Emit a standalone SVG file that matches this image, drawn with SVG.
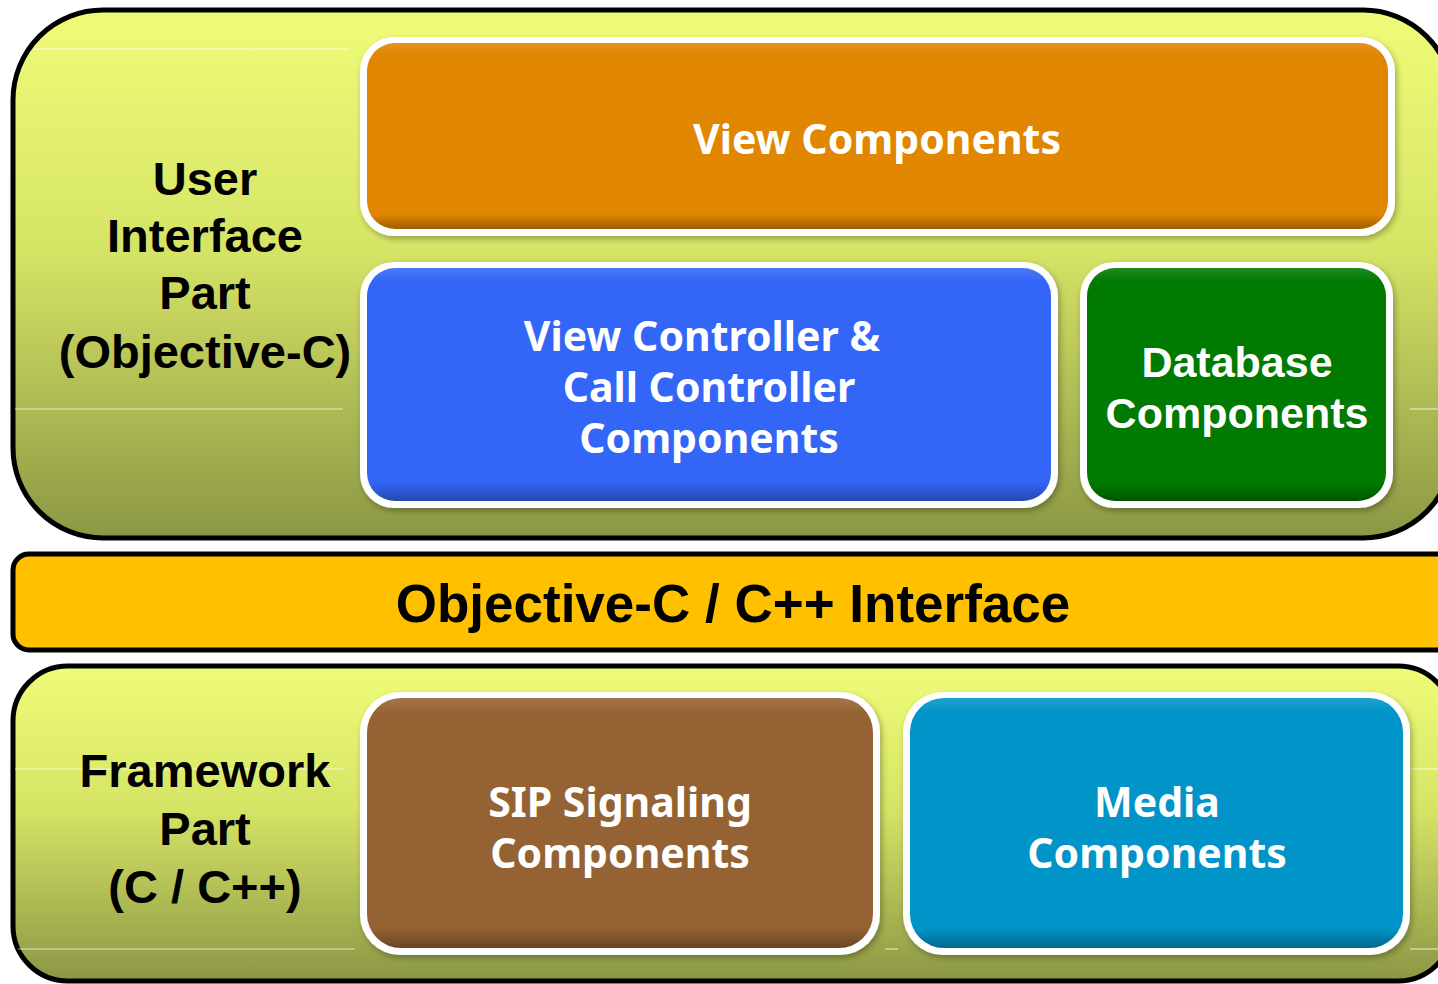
<svg xmlns="http://www.w3.org/2000/svg" width="1438" height="984" viewBox="0 0 1438 984">
<defs>
<linearGradient id="olive" x1="0" y1="0" x2="0" y2="1">
<stop offset="0" stop-color="#F0FC78"/>
<stop offset="0.45" stop-color="#D6E466"/>
<stop offset="1" stop-color="#8C9744"/>
</linearGradient>
<linearGradient id="bevel" x1="0" y1="0" x2="0" y2="1">
<stop offset="0" stop-color="#fff" stop-opacity="0.12"/>
<stop offset="0.06" stop-color="#fff" stop-opacity="0"/>
<stop offset="0.92" stop-color="#000" stop-opacity="0"/>
<stop offset="1" stop-color="#000" stop-opacity="0.3"/>
</linearGradient>
<filter id="sh" x="-5%" y="-5%" width="110%" height="115%">
<feDropShadow dx="2" dy="3" stdDeviation="3" flood-color="#000" flood-opacity="0.3"/>
</filter>
</defs>
<style>
.cont{fill:url(#olive);stroke:#000;stroke-width:5}
.frame{fill:#fff;filter:url(#sh)}
.bev{fill:url(#bevel)}
.seam{stroke:#fff;stroke-width:1.2;stroke-opacity:0.7}
.lbl{font-family:"Liberation Sans",Arial,sans-serif;font-weight:bold;font-size:47px;fill:#000;text-anchor:middle}
.box{font-family:"Noto Sans","Open Sans",sans-serif;font-weight:bold;font-size:41px;fill:#fff;text-anchor:middle}
.boxa{font-family:"Liberation Sans",Arial,sans-serif;font-weight:bold;font-size:43px;fill:#fff;text-anchor:middle}
</style>
<rect width="1438" height="984" fill="#fff"/>

<g id="ui-part">
<rect class="cont" x="13" y="10" width="1440" height="528" rx="90"/>
<line class="seam" x1="33" y1="49" x2="350" y2="49"/>
<line class="seam" x1="15" y1="409" x2="343" y2="409"/>
<line class="seam" x1="1410" y1="409" x2="1438" y2="409"/>
<text class="lbl" x="205" y="195">User</text>
<text class="lbl" x="205" y="252">Interface</text>
<text class="lbl" x="205" y="309">Part</text>
<text class="lbl" x="205" y="368">(Objective-C)</text>
</g>

<g id="interface">
<rect x="13" y="554" width="1480" height="96" rx="16" fill="#FFC000" stroke="#000" stroke-width="5"/>
<text x="733" y="622" font-family="'Liberation Sans',Arial,sans-serif" font-weight="bold" font-size="53" fill="#000" text-anchor="middle">Objective-C / C++ Interface</text>
</g>

<g id="framework-part">
<rect class="cont" x="13" y="666" width="1440" height="315" rx="55"/>
<line class="seam" x1="15" y1="769" x2="343" y2="769"/>
<line class="seam" x1="1410" y1="769" x2="1438" y2="769"/>
<line class="seam" x1="18" y1="949" x2="355" y2="949"/>
<line class="seam" x1="885" y1="949" x2="898" y2="949"/>
<line class="seam" x1="1410" y1="949" x2="1438" y2="949"/>
<text class="lbl" x="205" y="787">Framework</text>
<text class="lbl" x="205" y="845">Part</text>
<text class="lbl" x="205" y="903">(C / C++)</text>
</g>

<g id="view-components">
<rect class="frame" x="360" y="37" width="1035" height="199" rx="34"/>
<rect x="367" y="43" width="1021" height="186" rx="28" fill="#E08600"/>
<rect class="bev" x="367" y="43" width="1021" height="186" rx="28"/>
<text class="box" x="877" y="154">View Components</text>
</g>

<g id="view-controller">
<rect class="frame" x="360" y="262" width="698" height="246" rx="34"/>
<rect x="367" y="268" width="684" height="233" rx="28" fill="#3366F6"/>
<rect class="bev" x="367" y="268" width="684" height="233" rx="28"/>
<text class="box" x="702" y="351">View Controller &amp;</text>
<text class="box" x="709" y="402">Call Controller</text>
<text class="box" x="709" y="453">Components</text>
</g>

<g id="database">
<rect class="frame" x="1080" y="262" width="313" height="246" rx="34"/>
<rect x="1087" y="268" width="299" height="233" rx="28" fill="#007A00"/>
<rect class="bev" x="1087" y="268" width="299" height="233" rx="28"/>
<text class="boxa" x="1237" y="377">Database</text>
<text class="boxa" x="1237" y="428">Components</text>
</g>

<g id="sip">
<rect class="frame" x="360" y="692" width="520" height="263" rx="40"/>
<rect x="367" y="698" width="506" height="250" rx="34" fill="#956333"/>
<rect class="bev" x="367" y="698" width="506" height="250" rx="34"/>
<text class="box" x="620" y="817">SIP Signaling</text>
<text class="box" x="620" y="868">Components</text>
</g>

<g id="media">
<rect class="frame" x="903" y="692" width="507" height="263" rx="40"/>
<rect x="910" y="698" width="493" height="250" rx="34" fill="#0094C8"/>
<rect class="bev" x="910" y="698" width="493" height="250" rx="34"/>
<text class="box" x="1157" y="817">Media</text>
<text class="box" x="1157" y="868">Components</text>
</g>

<g id="connectors"></g>
</svg>
